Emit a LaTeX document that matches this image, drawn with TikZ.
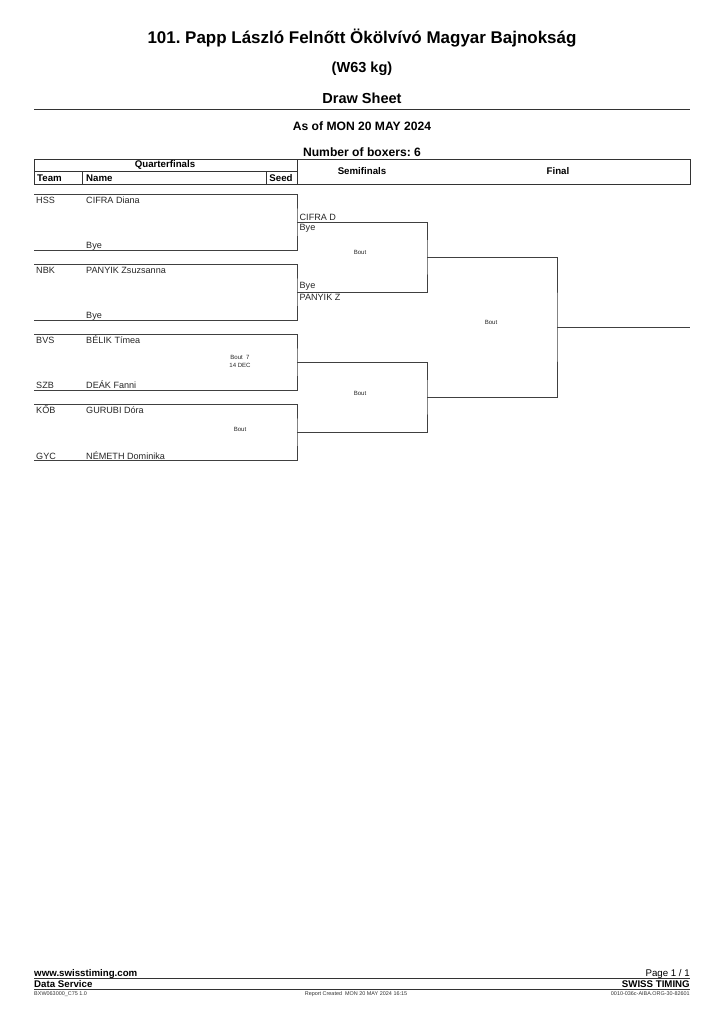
\documentclass[tikz,border=0pt]{standalone}
\usepackage{fontspec}
\setmainfont{Liberation Sans}
\usepackage{tikz}
\frenchspacing

\tikzset{
  brk/.style={draw=black!75, line width=0.7pt},
  rule/.style={draw=black!80, line width=0.7pt},
  nm/.style={font=\fontsize{7.5}{8.5}\selectfont, inner sep=0pt, anchor=base west, text=black!85},
  bout/.style={font=\fontsize{5}{6}\selectfont, inner sep=0pt, align=center, text=black!85},
  hd/.style={font=\bfseries\fontsize{8}{9}\selectfont, inner sep=0pt},
  foot/.style={font=\fontsize{4.5}{5.5}\selectfont, inner sep=0pt, text=black!80},
}

\begin{document}
\begin{tikzpicture}[x=0.8222bp, y=-0.8222bp]
\useasboundingbox (0,0) rectangle (724,1024);

% titles
\node[font=\bfseries\fontsize{14}{16}\selectfont] (title) at (362,38) {101. Papp László Felnőtt Ökölvívó Magyar Bajnokság};
\node[font=\bfseries\fontsize{12}{14}\selectfont] (weight) at (362,69) {(W63 kg)};
\node[font=\bfseries\fontsize{12}{14}\selectfont] (sheet) at (362,98) {Draw Sheet};
\draw[rule] (34,109) -- (690,109);
\node[font=\bfseries\fontsize{10}{12}\selectfont] (asof) at (362,126) {As of MON 20 MAY 2024};
\node[font=\bfseries\fontsize{10}{12}\selectfont] (nbox) at (362,152) {Number of boxers: 6};

% header box
\draw[rule] (34,159) rectangle (690,184);
\draw[rule] (34,171) -- (297,171);
\draw[rule] (297,159) -- (297,184);
\draw[rule] (82,171) -- (82,184);
\draw[rule] (266,171) -- (266,184);
\node[hd] (qfh) at (165,165) {Quarterfinals};
\node[hd, anchor=west] (teamh) at (37,178) {Team};
\node[hd, anchor=west] (nameh) at (86,178) {Name};
\node[hd] (seedh) at (281,178) {Seed};
\node[hd] (sfh) at (362,171) {Semifinals};
\node[hd] (fh) at (558,171) {Final};

% quarterfinals
\foreach \t [count=\i] in {194,264,334,404} {
  \coordinate (qt\i) at (34,\t);
  \coordinate (qb\i) at (34,\t+56);
  \coordinate (qm\i) at (297,\t+28);
  \draw[brk] (qt\i) -| (qm\i) |- (qb\i);
}
\node[nm] (team1) at (36,203) {HSS};
\node[nm] (name1) at (86,203) {CIFRA Diana};
\node[nm] (name2) at (86,248) {Bye};
\node[nm] (team3) at (36,273) {NBK};
\node[nm] (name3) at (86,273) {PANYIK Zsuzsanna};
\node[nm] (name4) at (86,318) {Bye};
\node[nm] (team5) at (36,343.5) {BVS};
\node[nm] (name5) at (86,343.5) {BÉLIK Tímea};
\node[nm] (team6) at (36,388.5) {SZB};
\node[nm] (name6) at (86,388.5) {DEÁK Fanni};
\node[nm] (team7) at (36,413) {KŐB};
\node[nm] (name7) at (86,413) {GURUBI Dóra};
\node[nm] (team8) at (36,459.5) {GYC};
\node[nm] (name8) at (86,459.5) {NÉMETH Dominika};
\node[bout] (bq3) at (240,361.5) {Bout\ \ 7\\14 DEC};
\node[bout] (bq4) at (240,429) {Bout};

% semifinals
\coordinate (sm1) at (427,257);
\coordinate (sm2) at (427,397);
\draw[brk] (qm1) -| (sm1) |- (qm2);
\draw[brk] (qm3) -| (sm2) |- (qm4);
\node[nm, anchor=south west] (sf1a) at ([xshift=2,yshift=1.2]qm1) {CIFRA D};
\node[nm, anchor=north west] (sf1b) at ([xshift=2,yshift=-1.5]qm1) {Bye};
\node[nm, anchor=south west] (sf2a) at ([xshift=2,yshift=1.2]qm2) {Bye};
\node[nm, anchor=north west] (sf2b) at ([xshift=2,yshift=-1.5]qm2) {PANYIK Z};
\node[bout] (bs1) at (360,252) {Bout};
\node[bout] (bs2) at (360,393) {Bout};

% final
\coordinate (fm) at (557,327);
\coordinate (fout) at (690,327);
\draw[brk] (sm1) -| (fm) |- (sm2);
\draw[brk] (fm) -- (fout);
\node[bout] (bf) at (491,322) {Bout};

% footer
\node[font=\bfseries\fontsize{8}{9}\selectfont, inner sep=0pt, anchor=base west] (web) at (34,976) {www.swisstiming.com};
\node[font=\fontsize{8}{9}\selectfont, inner sep=0pt, anchor=base east] (page) at (690,976) {Page 1 / 1};
\draw[rule] (34,978) -- (690,978);
\node[font=\bfseries\fontsize{8}{9}\selectfont, inner sep=0pt, anchor=base west] (dserv) at (34,987.5) {Data Service};
\node[font=\bfseries\fontsize{8}{9}\selectfont, inner sep=0pt, anchor=base east] (swiss) at (690,987.5) {SWISS TIMING};
\draw[rule] (34,989) -- (690,989);
\node[foot, anchor=base west] (code1) at (34,995.5) {BXW063000\_C75 1.0};
\node[foot, anchor=base] (created) at (356,995.5) {Report Created\ \ MON 20 MAY 2024 16:15};
\node[foot, anchor=base east] (code2) at (690,995.5) {0010-036c-AIBA.ORG-30-82601};
\end{tikzpicture}
\end{document}
